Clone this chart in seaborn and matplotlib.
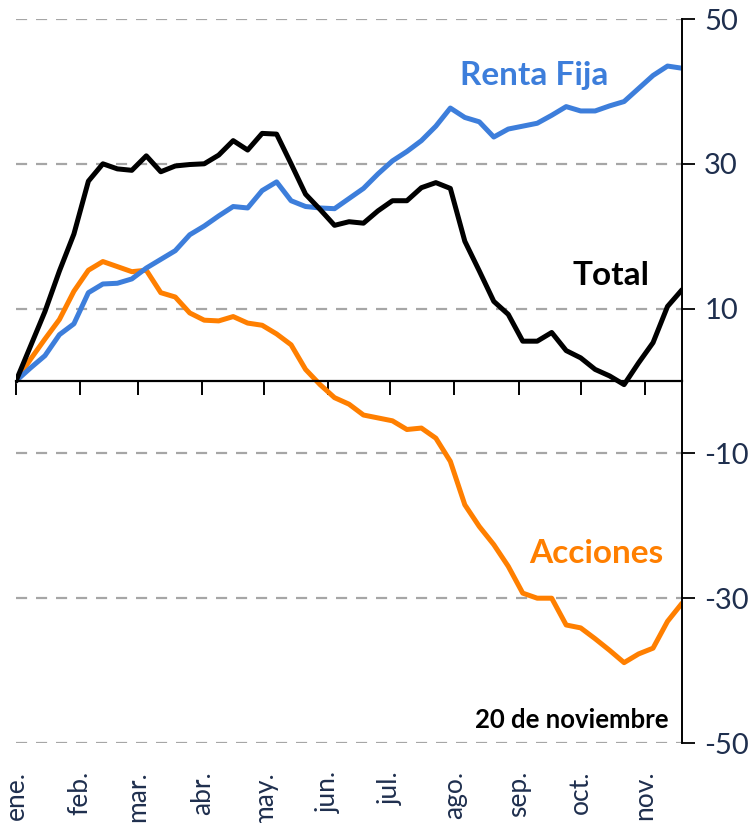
import pandas as pd
import numpy as np
import matplotlib
matplotlib.use("Agg")
import matplotlib.pyplot as plt
import matplotlib.dates as mdates
import seaborn as sns

# datos semanales acumulados (%), desde el 1 de enero
fechas = pd.date_range("2015-01-01", periods=47, freq="7D")

renta_fija = [0, 1.8, 3.5, 6.4, 7.9, 12.2, 13.4, 13.5, 14.1, 15.6,
              16.8, 18.0, 20.2, 21.4, 22.8, 24.1, 23.9, 26.3, 27.5, 24.9,
              24.1, 23.9, 23.8, 25.2, 26.6, 28.6, 30.4, 31.7, 33.2, 35.2,
              37.7, 36.4, 35.8, 33.7, 34.8, 35.2, 35.6, 36.7, 37.9, 37.3,
              37.3, 38.0, 38.6, 40.4, 42.2, 43.5, 43.2]

acciones = [0, 3.0, 5.8, 8.5, 12.4, 15.3, 16.5, 15.8, 15.1, 15.3,
            12.2, 11.6, 9.4, 8.4, 8.3, 8.9, 8.0, 7.7, 6.5, 5.0,
            1.6, -0.5, -2.3, -3.2, -4.7, -5.1, -5.5, -6.7, -6.5, -7.9,
            -11.1, -17.1, -20.1, -22.6, -25.6, -29.3, -30.0, -30.0, -33.7, -34.1,
            -35.6, -37.2, -38.9, -37.7, -36.9, -33.2, -30.7]

total = [0, 4.8, 9.6, 15.2, 20.3, 27.6, 30.0, 29.3, 29.1, 31.1,
         28.9, 29.7, 29.9, 30.0, 31.2, 33.2, 31.9, 34.2, 34.1, 30.0,
         25.8, 23.7, 21.5, 22.0, 21.8, 23.5, 24.9, 24.9, 26.7, 27.4,
         26.6, 19.3, 15.2, 11.0, 9.2, 5.5, 5.5, 6.7, 4.2, 3.2,
         1.6, 0.7, -0.5, 2.5, 5.3, 10.3, 12.6]

meses = ["ene.", "feb.", "mar.", "abr.", "may.", "jun.",
         "jul.", "ago.", "sep.", "oct.", "nov."]
inicio_mes = pd.date_range("2015-01-01", periods=11, freq="MS")
yticks = [-50, -30, -10, 10, 30, 50]

azul = "#3D7EDB"
naranja = "#FF7F00"
navy = "#1F2F4E"

df = pd.DataFrame({"fecha": fechas, "Renta Fija": renta_fija,
                   "Acciones": acciones, "Total": total})

sns.set_style("white")
plt.rcParams["font.family"] = ["Lato", "DejaVu Sans"]
plt.rcParams["axes.unicode_minus"] = False

fig = plt.figure(figsize=(7.53, 8.23), dpi=100)
ax = fig.add_axes([16 / 753, 1 - 743 / 823, 666 / 753, 724 / 823])

# lineas
sns.lineplot(data=df, x="fecha", y="Acciones", color=naranja, lw=3.6, ax=ax)
sns.lineplot(data=df, x="fecha", y="Renta Fija", color=azul, lw=3.6, ax=ax)
sns.lineplot(data=df, x="fecha", y="Total", color="black", lw=3.6, ax=ax)

ax.set_xlim(fechas[0], fechas[-1])
ax.set_ylim(-50, 50)
ax.set_xlabel("")
ax.set_ylabel("")

# eje y a la derecha con cuadricula discontinua
ax.yaxis.tick_right()
ax.set_yticks(yticks)
ax.tick_params(axis="y", right=True, left=False, direction="out", length=9,
               width=1.3, colors="black", labelcolor=navy, labelsize=21, pad=7)
ax.grid(axis="y", color="#A6A6A6", lw=1.6, linestyle=(0, (5, 4)))
ax.grid(axis="x", visible=False)

for s in ["top", "left"]:
    ax.spines[s].set_visible(False)
ax.spines["right"].set_linewidth(1.4)
ax.spines["right"].set_color("black")
ax.spines["bottom"].set_position(("data", 0))
ax.spines["bottom"].set_linewidth(1.6)
ax.spines["bottom"].set_color("black")
ax.spines["bottom"].set_zorder(5)

# marcas de mes sobre el eje 0, etiquetas abajo
ax.set_xticks(inicio_mes)
ax.tick_params(axis="x", bottom=True, direction="out", length=10, width=1.4,
               colors="black", labelbottom=False)
sec = ax.secondary_xaxis("bottom")
sec.set_xticks(mdates.date2num(inicio_mes))
sec.set_xticklabels(meses, rotation=90, color=navy, fontsize=19)
sec.tick_params(axis="x", length=0, pad=20)
sec.spines["bottom"].set_visible(False)

# rotulos de las series
tr = ax.get_yaxis_transform()
ax.text(0.778, 40.9, "Renta Fija", color=azul, fontsize=24, fontweight="bold",
        ha="center", va="baseline", transform=tr)
ax.text(0.893, 13.3, "Total", color="black", fontsize=24, fontweight="bold",
        ha="center", va="baseline", transform=tr)
ax.text(0.872, -25.1, "Acciones", color=naranja, fontsize=24, fontweight="bold",
        ha="center", va="baseline", transform=tr)
ax.text(0.98, -47.9, "20 de noviembre", color="black", fontsize=18.5,
        fontweight="bold", ha="right", va="baseline", transform=tr)

fig.savefig("out.png", dpi=100)
